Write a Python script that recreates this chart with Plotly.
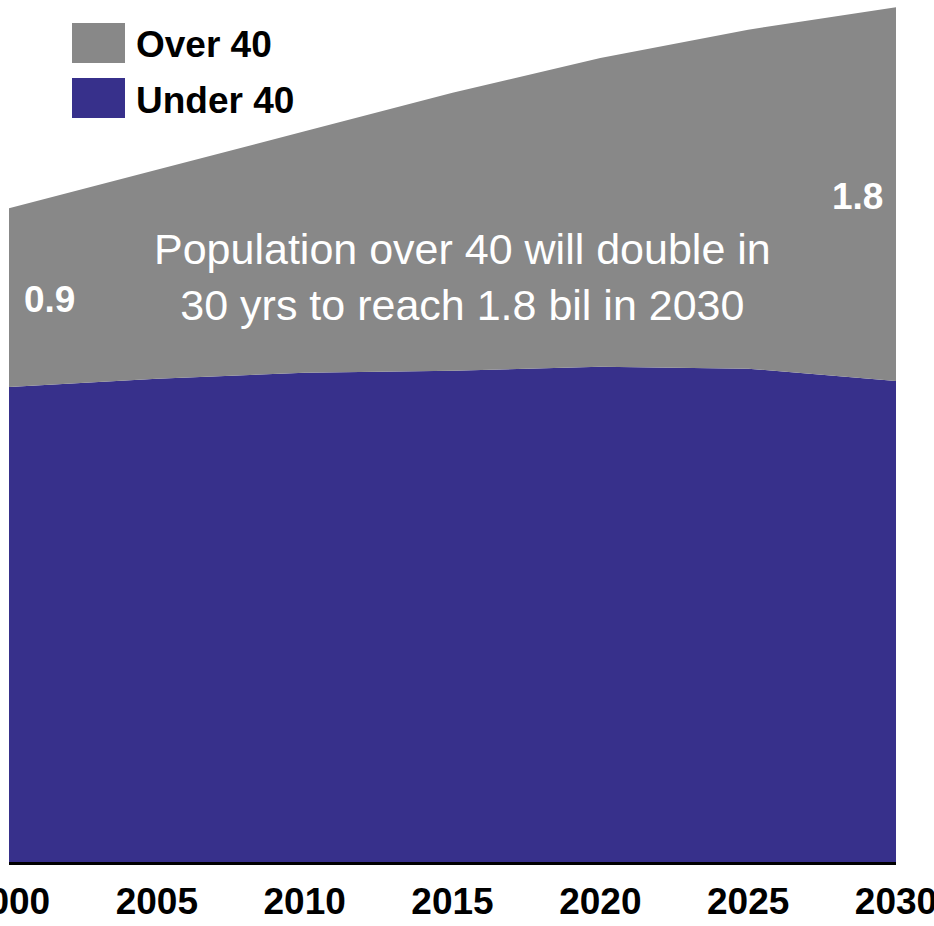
import plotly.graph_objects as go

years = [2000, 2005, 2010, 2015, 2020, 2025, 2030]
under_40 = [2.34, 2.38, 2.41, 2.42, 2.44, 2.43, 2.37]
over_40 = [0.88, 1.03, 1.19, 1.37, 1.52, 1.67, 1.84]
tick_labels = ["2000", "2005", "2010", "2015", "2020", "2025", "2030"]

BLUE = "#37308b"
GRAY = "#888888"
FONT = "Liberation Sans, Arial, sans-serif"

fig = go.Figure()
fig.add_trace(go.Scatter(x=years, y=under_40, stackgroup="pop", mode="none",
                         fillcolor=BLUE, name="Under 40", showlegend=False))
fig.add_trace(go.Scatter(x=years, y=over_40, stackgroup="pop", mode="none",
                         fillcolor=GRAY, name="Over 40", showlegend=False))

W, H = 934, 926
ml, mr, mt, mb = 9, 38, 0, 64
pw, ph = W - ml - mr, H - mt - mb

def px(x):
    return (x - ml) / pw

def py(y):
    return 1 - (y - mt) / ph

# legend drawn as squares + text
legend_items = [("Over 40", GRAY, 23, 63), ("Under 40", BLUE, 78, 118)]
for name, col, y0, y1 in legend_items:
    fig.add_shape(type="rect", xref="paper", yref="paper",
                  x0=px(72), x1=px(125), y0=py(y1), y1=py(y0),
                  fillcolor=col, line=dict(width=0))
    fig.add_annotation(text="<b>%s</b>" % name, xref="paper", yref="paper",
                       x=px(134), y=py((y0 + y1) / 2 + 2), xanchor="left", yanchor="middle",
                       showarrow=False, font=dict(family=FONT, size=37, color="black"))

fig.add_annotation(text="<b>0.9</b>", xref="paper", yref="paper", x=px(49), y=py(300),
                   xanchor="center", yanchor="middle",
                   showarrow=False, font=dict(family=FONT, size=37, color="white"))
fig.add_annotation(text="<b>1.8</b>", xref="paper", yref="paper", x=px(857), y=py(196),
                   xanchor="center", yanchor="middle",
                   showarrow=False, font=dict(family=FONT, size=37, color="white"))
fig.add_annotation(text="Population over 40 will double in<br>30 yrs to reach 1.8 bil in 2030",
                   xref="paper", yref="paper", x=px(462), y=py(277),
                   xanchor="center", yanchor="middle",
                   showarrow=False, font=dict(family=FONT, size=43, color="white"))

fig.update_layout(
    width=W, height=H, template="none",
    margin=dict(l=ml, r=mr, t=mt, b=mb, autoexpand=False),
    paper_bgcolor="white", plot_bgcolor="white",
    showlegend=False,
    xaxis=dict(range=[2000, 2030], tickvals=years, ticktext=["<b>%s</b>" % t for t in tick_labels],
               showgrid=False, zeroline=False, showline=True, linecolor="black", linewidth=3,
               ticks="outside", ticklen=5, tickcolor="rgba(0,0,0,0)",
               tickfont=dict(family=FONT, size=37, color="black"),
               ticklabeloverflow="allow", automargin=False),
    yaxis=dict(range=[0, 862 / 203], visible=False, showgrid=False, zeroline=False,
               automargin=False),
)

fig.write_html("out.html")
